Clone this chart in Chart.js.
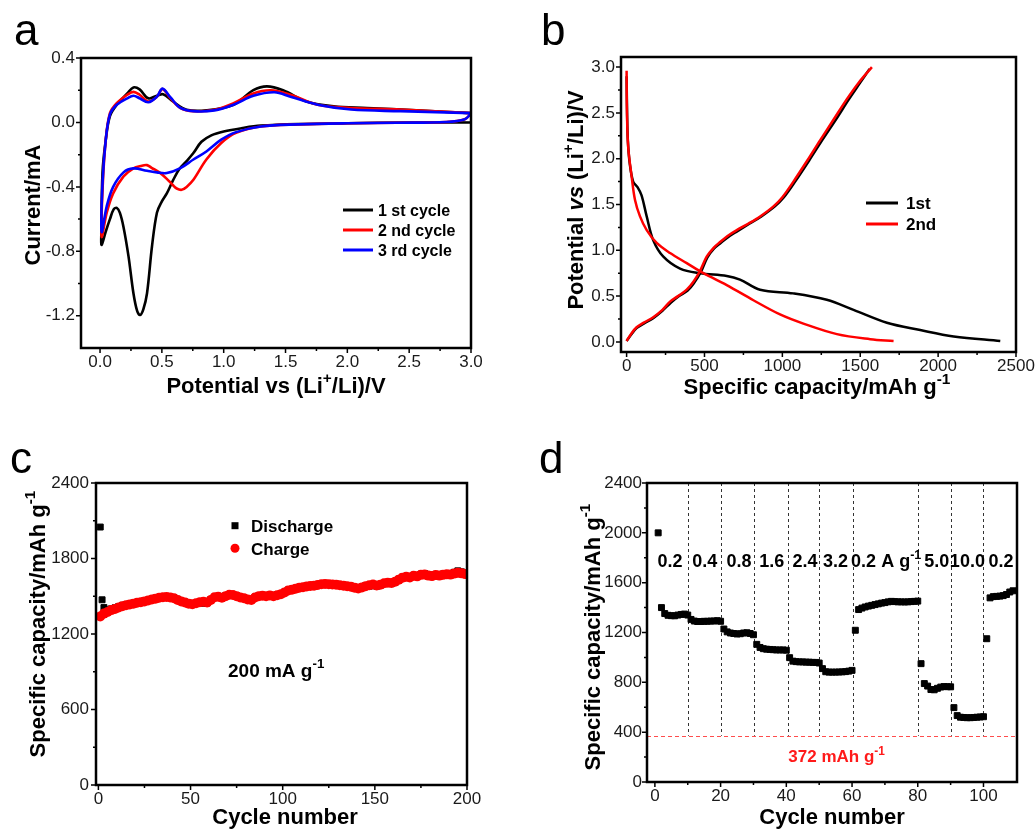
<!DOCTYPE html>
<html>
<head>
<meta charset="utf-8">
<script src="https://cdn.jsdelivr.net/npm/chart.js@4.4.1/dist/chart.umd.min.js"></script>
<style>
  body { margin: 0; background: #fff; width: 1035px; height: 829px; position: relative; overflow: hidden; }
  canvas { position: absolute; }
</style>
</head>
<body>
<canvas id="chartA" width="518" height="415" style="left:0px;top:0px"></canvas>
<canvas id="chartB" width="517" height="415" style="left:518px;top:0px"></canvas>
<canvas id="chartC" width="518" height="414" style="left:0px;top:415px"></canvas>
<canvas id="chartD" width="517" height="414" style="left:518px;top:415px"></canvas>
<script>
// ---- panel a: cyclic voltammetry (potential V, current mA) ----
const cv1Potential = [3.0, 2.5, 2.0, 1.6, 1.3, 1.15, 1.0, 0.9, 0.82, 0.755, 0.7, 0.64, 0.59, 0.54, 0.5, 0.46, 0.42, 0.38, 0.35, 0.324, 0.3, 0.27, 0.23, 0.19, 0.16, 0.135, 0.11, 0.08, 0.045, 0.013, 0.01, 0.02, 0.046, 0.08, 0.135, 0.22, 0.27, 0.32, 0.39, 0.46, 0.51, 0.59, 0.7, 0.86, 1.08, 1.24, 1.35, 1.48, 1.67, 1.89, 2.16, 2.56, 3.0];
const cv1Current = [0.0, 0.0, -0.005, -0.01, -0.02, -0.035, -0.056, -0.08, -0.12, -0.19, -0.24, -0.29, -0.36, -0.44, -0.49, -0.56, -0.77, -1.06, -1.16, -1.195, -1.17, -1.06, -0.83, -0.65, -0.56, -0.53, -0.54, -0.6, -0.68, -0.76, -0.7, -0.31, -0.11, 0.04, 0.11, 0.18, 0.217, 0.205, 0.15, 0.166, 0.175, 0.13, 0.079, 0.075, 0.11, 0.2, 0.224, 0.2, 0.13, 0.1, 0.09, 0.075, 0.058];
const cv2Potential = [3.0, 2.95, 2.8, 2.4, 2.0, 1.6, 1.3, 1.1, 0.98, 0.86, 0.755, 0.7, 0.66, 0.62, 0.59, 0.54, 0.48, 0.42, 0.38, 0.33, 0.27, 0.19, 0.106, 0.054, 0.013, 0.02, 0.046, 0.08, 0.135, 0.22, 0.27, 0.32, 0.39, 0.46, 0.505, 0.57, 0.65, 0.755, 0.925, 1.08, 1.24, 1.38, 1.54, 1.76, 2.03, 2.43, 3.0];
const cv2Current = [0.055, 0.02, 0.003, -0.002, -0.005, -0.012, -0.025, -0.065, -0.128, -0.23, -0.356, -0.4, -0.418, -0.41, -0.39, -0.35, -0.31, -0.283, -0.265, -0.27, -0.285, -0.335, -0.44, -0.56, -0.71, -0.42, -0.11, 0.058, 0.12, 0.172, 0.19, 0.172, 0.13, 0.16, 0.207, 0.15, 0.089, 0.07, 0.079, 0.12, 0.18, 0.2, 0.172, 0.11, 0.09, 0.08, 0.058];
const cv3Potential = [3.0, 2.95, 2.8, 2.4, 2.0, 1.6, 1.3, 1.1, 0.98, 0.86, 0.755, 0.65, 0.54, 0.46, 0.38, 0.27, 0.19, 0.106, 0.054, 0.013, 0.02, 0.046, 0.08, 0.135, 0.22, 0.27, 0.32, 0.39, 0.46, 0.505, 0.57, 0.65, 0.755, 0.925, 1.08, 1.24, 1.41, 1.54, 1.76, 2.03, 2.43, 3.0];
const cv3Current = [0.055, 0.02, 0.003, -0.002, -0.005, -0.012, -0.025, -0.06, -0.107, -0.18, -0.23, -0.283, -0.314, -0.31, -0.3, -0.285, -0.31, -0.4, -0.52, -0.68, -0.38, -0.11, 0.05, 0.11, 0.15, 0.166, 0.15, 0.125, 0.16, 0.21, 0.155, 0.09, 0.07, 0.075, 0.11, 0.165, 0.187, 0.16, 0.11, 0.08, 0.07, 0.058];
const cvLegend = ['1 st cycle', '2 nd cycle', '3 rd cycle'];

// ---- panel b: charge/discharge profiles (capacity mAh/g, potential V) ----
const dis1Capacity = [0, 3, 8, 20, 42, 70, 96, 129, 171, 236, 343, 471, 643, 728, 857, 1071, 1285, 1457, 1671, 1885, 2100, 2399];
const dis1Potential = [2.9, 2.5, 2.2, 1.95, 1.75, 1.69, 1.6, 1.37, 1.11, 0.93, 0.8, 0.75, 0.72, 0.68, 0.57, 0.53, 0.46, 0.35, 0.21, 0.13, 0.06, 0.01];
const chg1Capacity = [0, 30, 64, 110, 171, 230, 285, 335, 392, 436, 476, 518, 562, 604, 664, 712, 788, 865, 952, 1010, 1082, 1172, 1255, 1345, 1428, 1500, 1560];
const chg1Potential = [0.01, 0.08, 0.15, 0.2, 0.26, 0.34, 0.43, 0.5, 0.56, 0.65, 0.76, 0.92, 1.02, 1.08, 1.16, 1.21, 1.29, 1.37, 1.48, 1.58, 1.75, 1.98, 2.2, 2.43, 2.65, 2.83, 2.98];
const dis2Capacity = [0, 2, 10, 32, 54, 86, 129, 193, 279, 386, 493, 643, 814, 985, 1135, 1350, 1564, 1714];
const dis2Potential = [2.96, 2.54, 2.13, 1.81, 1.55, 1.37, 1.22, 1.08, 0.97, 0.86, 0.75, 0.62, 0.455, 0.3, 0.2, 0.085, 0.03, 0.01];
const chg2Capacity = [0, 30, 64, 110, 171, 230, 279, 330, 386, 430, 470, 514, 560, 600, 660, 707, 780, 857, 943, 1000, 1071, 1160, 1242, 1330, 1414, 1490, 1575];
const chg2Potential = [0.01, 0.09, 0.16, 0.21, 0.27, 0.35, 0.44, 0.5, 0.57, 0.66, 0.77, 0.93, 1.03, 1.09, 1.17, 1.22, 1.29, 1.37, 1.48, 1.58, 1.75, 1.98, 2.2, 2.43, 2.65, 2.83, 3.0];
const profileLegend = ['1st', '2nd'];

// ---- panel c: cycling at 200 mA/g (every second cycle) ----
const chargeC = [
  1340, 1362, 1375, 1390, 1398, 1410, 1420, 1428, 1435, 1440,
  1448, 1452, 1458, 1466, 1474, 1480, 1488, 1492, 1494, 1490,
  1484, 1470, 1458, 1450, 1440, 1436, 1444, 1452, 1456, 1450,
  1470, 1492, 1496, 1488, 1500, 1512, 1510, 1500, 1490, 1484,
  1474, 1470, 1490, 1500, 1504, 1500, 1506, 1500, 1508, 1516,
  1530, 1546, 1552, 1560, 1568, 1572, 1578, 1582, 1584, 1590,
  1596, 1598, 1596, 1594, 1592, 1588, 1584, 1580, 1576, 1568,
  1562, 1570, 1580, 1588, 1594, 1586, 1592, 1604, 1608, 1606,
  1616, 1632, 1648, 1654, 1650, 1662, 1658, 1670, 1672, 1664,
  1660, 1668, 1664, 1670, 1674, 1672, 1680, 1686, 1682, 1676
];
const dischargeC = [
  2050, 1472, 1410,
  1392, 1400, 1408, 1418, 1428, 1434, 1440, 1446, 1452, 1458,
  1464, 1470, 1478, 1486, 1492, 1496, 1498, 1494, 1488, 1476,
  1462, 1454, 1446, 1440, 1446, 1454, 1444, 1446, 1474, 1494,
  1500, 1492, 1504, 1514, 1514, 1504, 1494, 1488, 1478, 1474,
  1494, 1504, 1508, 1506, 1510, 1504, 1512, 1520, 1534, 1550,
  1556, 1564, 1572, 1576, 1582, 1586, 1588, 1594, 1600, 1602,
  1600, 1598, 1596, 1592, 1588, 1584, 1580, 1572, 1566, 1574,
  1584, 1580, 1586, 1580, 1588, 1600, 1602, 1600, 1612, 1636,
  1652, 1658, 1656, 1666, 1664, 1676, 1680, 1672, 1668, 1674,
  1670, 1676, 1680, 1678, 1690, 1702, 1694, 1684
];
const chargeCycle = chargeC.map((_, i) => 2 * i + 1);
const dischargeCycle = dischargeC.map((_, i) => (i < 3 ? i + 1 : 2 * i - 1));
const cyclingLegend = ['Discharge', 'Charge'];

// ---- panel d: rate capability ----
const rateQ = [
  2000, 1400, 1352, 1338, 1335, 1334, 1340, 1345, 1348, 1340,
  1305, 1292, 1288, 1288, 1290, 1290, 1292, 1292, 1295, 1290,
  1228, 1205, 1196, 1192, 1188, 1190, 1196, 1198, 1192, 1182,
  1105, 1080, 1070, 1066, 1064, 1062, 1060, 1060, 1060, 1058,
  998, 970, 966, 964, 964, 962, 962, 960, 960, 955,
  910, 885, 882, 882, 882, 883, 884, 886, 890, 896,
  1218, 1384, 1396, 1405, 1412, 1418, 1424, 1430, 1436, 1440,
  1446, 1450, 1448, 1446, 1446, 1445, 1446, 1448, 1450, 1452,
  950, 790, 770, 742, 740, 752, 762, 766, 765, 764,
  597, 533, 520, 518, 516, 516, 518, 520, 522, 524,
  1150, 1478, 1488, 1490, 1492, 1496, 1505, 1525, 1535
];
const rateCycle = rateQ.map((_, i) => i + 1);
const dividerCycles = [10, 20, 30.3, 40.6, 50, 60.4, 80, 90.2, 100];
const rateLabels = ['0.2', '0.4', '0.8', '1.6', '2.4', '3.2', '0.2 A g^{-1}', '5.0', '10.0', '0.2'];
const rateLabelCycle = [4.6, 15.2, 25.6, 35.6, 45.7, 55, 70.4, 85.8, 95.1, 105.3];
const graphiteLimit = 372;

// ---- tick labels ----
const aXTicks = [0, 0.5, 1.0, 1.5, 2.0, 2.5, 3.0];
const aYTicks = [-1.2, -0.8, -0.4, 0.0, 0.4];
const bXTicks = [0, 500, 1000, 1500, 2000, 2500];
const bYTicks = [0, 0.5, 1.0, 1.5, 2.0, 2.5, 3.0];
const cXTicks = [0, 50, 100, 150, 200];
const cYTicks = [0, 600, 1200, 1800, 2400];
const dXTicks = [0, 20, 40, 60, 80, 100];
const dYTicks = [0, 400, 800, 1200, 1600, 2000, 2400];

const FONT = '"Liberation Sans", Arial, Helvetica, sans-serif';

// "^{..}" = superscript, "~{..}" = italic
function rich(str) {
  const out = [];
  const re = /([\^~])\{([^}]*)\}/g;
  let last = 0, m;
  while ((m = re.exec(str))) {
    if (m.index > last) out.push({ t: str.slice(last, m.index) });
    out.push({ t: m[2], sup: m[1] === '^', italic: m[1] === '~' });
    last = re.lastIndex;
  }
  if (last < str.length) out.push({ t: str.slice(last) });
  return out;
}

function drawRich(ctx, str, x, y, t) {
  const size = t.size, weight = t.weight || 'bold';
  const segs = rich(str);
  const fontOf = s => `${s.italic ? 'italic ' : ''}${weight} ${s.sup ? size * 0.7 : size}px ${FONT}`;
  let total = 0;
  const widths = segs.map(s => { ctx.font = fontOf(s); const w = ctx.measureText(s.t).width; total += w; return w; });
  ctx.save();
  ctx.translate(x, y);
  if (t.rotate) ctx.rotate(-Math.PI / 2);
  ctx.fillStyle = t.color || '#000';
  ctx.textBaseline = 'alphabetic';
  ctx.textAlign = 'left';
  let cx = t.align === 'left' ? 0 : -total / 2;
  segs.forEach((s, i) => {
    ctx.font = fontOf(s);
    ctx.fillText(s.t, cx, s.sup ? -size * 0.45 : 0);
    cx += widths[i];
  });
  ctx.restore();
}

const midpoints = arr => arr.slice(1).map((v, i) => (v + arr[i]) / 2);

// frame, outward ticks, titles and free text for one panel
function makeDecor(spec) {
  return {
    id: 'decor' + spec.name,
    beforeDatasetsDraw(chart) { if (spec.under) spec.under(chart); },
    afterDatasetsDraw(chart) {
      const ctx = chart.ctx, a = chart.chartArea, sx = chart.scales.x, sy = chart.scales.y;
      ctx.save();
      ctx.strokeStyle = '#000';
      ctx.lineWidth = 1.5;
      ctx.beginPath();
      const xt = (vals, len) => vals.forEach(v => { const p = sx.getPixelForValue(v); ctx.moveTo(p, a.bottom); ctx.lineTo(p, a.bottom + len); });
      const yt = (vals, len) => vals.forEach(v => { const p = sy.getPixelForValue(v); ctx.moveTo(a.left, p); ctx.lineTo(a.left - len, p); });
      xt(spec.x.major, 5); xt(midpoints(spec.x.major), 3);
      yt(spec.y.major, 5); yt(midpoints(spec.y.major), 3);
      ctx.stroke();
      ctx.lineWidth = 2.5;
      ctx.strokeRect(a.left, a.top, a.right - a.left, a.bottom - a.top);
      if (spec.over) spec.over(chart, ctx);
      spec.texts.forEach(t => drawRich(ctx, t.s, t.x - spec.ox, t.y - spec.oy, t));
      ctx.restore();
    }
  };
}

function axisOptions(ax, dir, spec) {
  return {
    type: 'linear', min: ax.min, max: ax.max,
    grid: { display: false, drawTicks: false },
    border: { display: false },
    ticks: {
      font: { family: FONT, size: 17 }, color: '#1a1a1a', padding: ax.pad,
      autoSkip: false, maxRotation: 0, minRotation: 0,
      callback: v => ax.fmt(v)
    },
    afterBuildTicks: s => { s.ticks = ax.major.map(v => ({ value: v })); },
    afterFit: s => {
      if (dir === 'x') s.height = spec.oy + spec.h - spec.frame.bottom;
      else s.width = spec.frame.left - spec.ox;
      s.paddingLeft = s.paddingRight = s.paddingTop = s.paddingBottom = 0;
    }
  };
}

function makeChart(id, spec, datasets) {
  const ctx = document.getElementById(id).getContext('2d');
  return new Chart(ctx, {
    type: 'scatter',
    data: { datasets },
    options: {
      responsive: false, animation: false, events: [],
      layout: { padding: { top: spec.frame.top - spec.oy, right: spec.ox + spec.w - spec.frame.right, bottom: 0, left: 0 } },
      plugins: { legend: { display: false }, tooltip: { enabled: false } },
      scales: { x: axisOptions(spec.x, 'x', spec), y: axisOptions(spec.y, 'y', spec) }
    },
    plugins: [makeDecor(spec)]
  });
}

const pts = (xs, ys) => xs.map((x, i) => ({ x, y: ys[i] }));
const curve = (xs, ys, color, w) => ({ data: pts(xs, ys), showLine: true, borderColor: color, borderWidth: w, pointRadius: 0, tension: 0.35, fill: false });
const fix1 = v => v.toFixed(1);
const plain = v => String(v);

function legendLines(ctx, spec, items, x0, x1, textX, size) {
  items.forEach(it => {
    ctx.strokeStyle = it.color; ctx.lineWidth = 3;
    ctx.beginPath(); ctx.moveTo(x0 - spec.ox, it.y - spec.oy); ctx.lineTo(x1 - spec.ox, it.y - spec.oy); ctx.stroke();
    drawRich(ctx, it.label, textX - spec.ox, it.y - spec.oy + size * 0.36, { size, align: 'left' });
  });
}

// ---- panel a ----
const specA = {
  name: 'A', ox: 0, oy: 0, w: 518, h: 415,
  frame: { left: 81, top: 58, right: 471, bottom: 348 },
  x: { min: -0.154, max: 3.0, major: aXTicks, fmt: fix1, pad: 4 },
  y: { min: -1.4, max: 0.4, major: aYTicks, fmt: fix1, pad: 6 },
  texts: [
    { s: 'a', x: 14, y: 45, size: 44, weight: 'normal', align: 'left' },
    { s: 'Potential vs (Li^{+}/Li)/V', x: 276, y: 393, size: 22 },
    { s: 'Current/mA', x: 40, y: 205, size: 22, rotate: true }
  ],
  over(chart, ctx) {
    legendLines(ctx, specA, [
      { label: cvLegend[0], color: '#000', y: 210 },
      { label: cvLegend[1], color: '#ff0000', y: 230 },
      { label: cvLegend[2], color: '#0000ff', y: 250 }
    ], 343, 373, 378, 16);
  }
};
makeChart('chartA', specA, [
  curve(cv3Potential, cv3Current, '#0000ff', 2.6),
  curve(cv2Potential, cv2Current, '#ff0000', 2.6),
  curve(cv1Potential, cv1Current, '#000000', 2.6)
]);

// ---- panel b ----
const specB = {
  name: 'B', ox: 518, oy: 0, w: 517, h: 415,
  frame: { left: 621, top: 57, right: 1016, bottom: 352 },
  x: { min: -36, max: 2500, major: bXTicks, fmt: plain, pad: 4 },
  y: { min: -0.11, max: 3.11, major: bYTicks, fmt: fix1, pad: 6 },
  texts: [
    { s: 'b', x: 541, y: 45, size: 44, weight: 'normal', align: 'left' },
    { s: 'Specific capacity/mAh g^{-1}', x: 817, y: 394, size: 22 },
    { s: 'Potential ~{vs} (Li^{+}/Li)/V', x: 583, y: 200, size: 22, rotate: true }
  ],
  over(chart, ctx) {
    legendLines(ctx, specB, [
      { label: profileLegend[0], color: '#000', y: 203 },
      { label: profileLegend[1], color: '#ff0000', y: 224 }
    ], 866, 898, 906, 17);
  }
};
makeChart('chartB', specB, [
  curve(dis2Capacity, dis2Potential, '#ff0000', 2.5),
  curve(chg2Capacity, chg2Potential, '#ff0000', 2.5),
  curve(dis1Capacity, dis1Potential, '#000000', 2.5),
  curve(chg1Capacity, chg1Potential, '#000000', 2.5)
]);

// ---- panel c ----
const specC = {
  name: 'C', ox: 0, oy: 415, w: 518, h: 414,
  frame: { left: 96, top: 483, right: 467, bottom: 785 },
  x: { min: -1.3, max: 200, major: cXTicks, fmt: plain, pad: 4 },
  y: { min: 0, max: 2400, major: cYTicks, fmt: plain, pad: 7 },
  texts: [
    { s: 'c', x: 10, y: 473, size: 44, weight: 'normal', align: 'left' },
    { s: 'Cycle number', x: 285, y: 824, size: 22 },
    { s: 'Specific capacity/mAh g^{-1}', x: 45, y: 624, size: 22, rotate: true },
    { s: cyclingLegend[0], x: 251, y: 532, size: 17, align: 'left' },
    { s: cyclingLegend[1], x: 251, y: 554.5, size: 17, align: 'left' },
    { s: '200 mA g^{-1}', x: 228, y: 677, size: 19, align: 'left' }
  ],
  over(chart, ctx) {
    ctx.fillStyle = '#000';
    ctx.fillRect(235 - 3.5 - specC.ox, 525.7 - 3.5 - specC.oy, 7, 7);
    ctx.fillStyle = '#ff0000';
    ctx.beginPath(); ctx.arc(235 - specC.ox, 548.3 - specC.oy, 4.5, 0, Math.PI * 2); ctx.fill();
  }
};
makeChart('chartC', specC, [
  { data: pts(chargeCycle, chargeC), pointStyle: 'circle', pointRadius: 5, pointBorderWidth: 0, backgroundColor: '#ff0000', borderColor: '#ff0000' },
  { data: pts(dischargeCycle, dischargeC), pointStyle: 'rect', pointRadius: 4.2, pointBorderWidth: 1, backgroundColor: '#000', borderColor: '#000' }
]);

// ---- panel d ----
const specD = {
  name: 'D', ox: 518, oy: 415, w: 517, h: 414,
  frame: { left: 647, top: 483, right: 1017, bottom: 782 },
  x: { min: -2.4, max: 110.2, major: dXTicks, fmt: plain, pad: 4 },
  y: { min: 0, max: 2400, major: dYTicks, fmt: plain, pad: 5 },
  texts: [
    { s: 'd', x: 539, y: 473, size: 44, weight: 'normal', align: 'left' },
    { s: 'Cycle number', x: 832, y: 824, size: 22 },
    { s: 'Specific capacity/mAh g^{-1}', x: 600, y: 637, size: 22, rotate: true }
  ],
  under(chart) {
    const { ctx, chartArea: a, scales: { x, y } } = chart;
    const yLim = y.getPixelForValue(graphiteLimit);
    ctx.save();
    ctx.lineWidth = 1;
    ctx.strokeStyle = '#333';
    ctx.setLineDash([3, 3]);
    dividerCycles.forEach(c => {
      const px = Math.round(x.getPixelForValue(c)) + 0.5;
      ctx.beginPath(); ctx.moveTo(px, a.top); ctx.lineTo(px, yLim); ctx.stroke();
    });
    ctx.strokeStyle = '#ff4d4d';
    ctx.setLineDash([4, 3]);
    ctx.beginPath(); ctx.moveTo(a.left, Math.round(yLim) + 0.5); ctx.lineTo(a.right, Math.round(yLim) + 0.5); ctx.stroke();
    ctx.restore();
  },
  over(chart, ctx) {
    const { x, y } = chart.scales;
    rateLabels.forEach((s, i) => drawRich(ctx, s, x.getPixelForValue(rateLabelCycle[i]), y.getPixelForValue(1723), { size: 18 }));
    drawRich(ctx, graphiteLimit + ' mAh g^{-1}', x.getPixelForValue(55.3), y.getPixelForValue(158), { size: 17, color: '#ff1a1a' });
  }
};
makeChart('chartD', specD, [
  { data: pts(rateCycle, rateQ), pointStyle: 'rect', pointRadius: 4.2, pointBorderWidth: 1, backgroundColor: '#000', borderColor: '#000' }
]);
</script>
</body>
</html>
